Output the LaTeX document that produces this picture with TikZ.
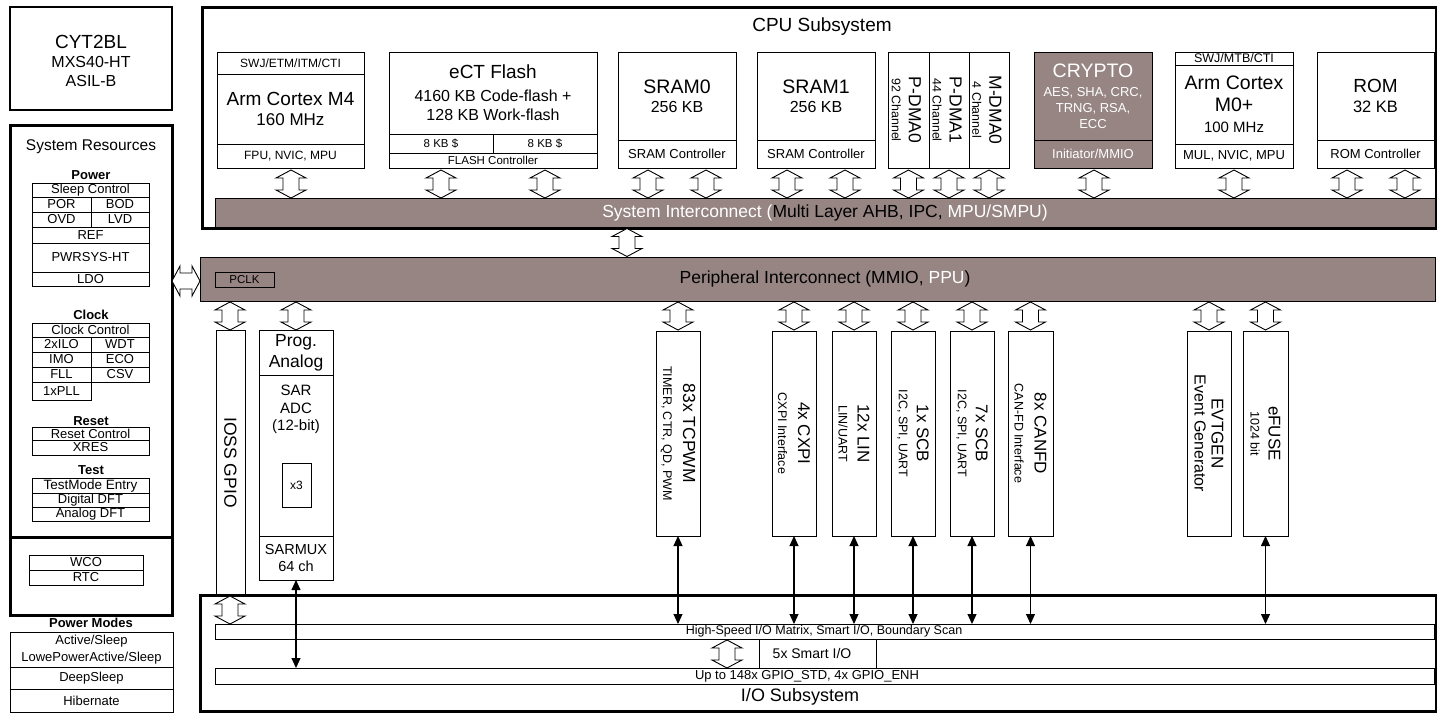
\documentclass[tikz,border=0pt]{standalone}
\usepackage{fontspec}
\setmainfont{Liberation Sans}
\usetikzlibrary{arrows.meta}
\definecolor{gry}{RGB}{150,133,131}
\newcommand\fs[2]{\fontsize{#1}{#2}\selectfont}
\newcommand\fz[1]{\fontsize{#1}{#1}\selectfont}
\newcommand\bx[7][]{\node[bxs,minimum width={(#5)-(#3)},minimum height={(#6)-(#4)},#1] (#2) at ({((#3)+(#5))/2},{((#4)+(#6))/2}) {#7};}
\begin{document}
\begin{tikzpicture}[x=1pt,y=-1pt,
 bxs/.style={draw,line width=1pt,rectangle,inner sep=0pt,outer sep=0pt,align=center,font=\fs{13}{15}},
 gbx/.style={fill=gry},
 thk/.style={line width=3pt},
 lbl/.style={inner sep=0pt,align=center},
 hdr/.style={inner sep=0pt,font=\fs{13}{15}\bfseries},
 dar/.style={line width=1.1pt,{Triangle[length=10pt,width=9pt]}-{Triangle[length=10pt,width=9pt]}},
 barrow/.pic={\draw[line width=0.9pt,fill=white] (0,-14) -- (15,-6) -- (8,-6) -- (8,6) -- (15,6) -- (0,14) -- (-15,6) -- (-8,6) -- (-8,-6) -- (-15,-6) -- cycle;}
]
\useasboundingbox (0,0) rectangle (1437,713);
\fill[white] (0,0) rectangle (1437,713);

% ---------------- left column ----------------
\bx[line width=1.3pt]{cyt}{10}{7}{172}{110}{}
\node[lbl,font=\fs{16}{19}] (cytt) at (91,61) {{\fz{19}CYT2BL}\\MXS40-HT\\ASIL-B};
\bx[thk]{sr}{10}{125}{172}{615}{}
\draw[thk] (10,537) -- (172,537);
\node[lbl,font=\fs{15.5}{18}] (srt) at (91,147) {System Resources};

\node[hdr] (pwh) at (91,175) {Power};
\bx{slc}{32}{183}{149}{197}{Sleep Control}
\bx{por}{32}{197}{91}{212}{POR}
\bx{bod}{91}{197}{149}{212}{BOD}
\bx{ovd}{32}{212}{91}{227}{OVD}
\bx{lvd}{91}{212}{149}{227}{LVD}
\bx{ref}{32}{227}{149}{243}{REF}
\bx{pwr}{32}{243}{149}{272}{PWRSYS-HT}
\bx{ldo}{32}{272}{149}{286}{LDO}

\node[hdr] (clh) at (91,315) {Clock};
\bx{cc}{32}{323}{149}{337}{Clock Control}
\bx{ilo}{32}{337}{91}{352}{2xILO}
\bx{wdt}{91}{337}{149}{352}{WDT}
\bx{imo}{32}{352}{91}{367}{IMO}
\bx{eco}{91}{352}{149}{367}{ECO}
\bx{fll}{32}{367}{91}{382}{FLL}
\bx{csv}{91}{367}{149}{382}{CSV}
\bx{pll}{32}{382}{91}{400}{1xPLL}

\node[hdr] (rsh) at (91,421) {Reset};
\bx{rc}{32}{427}{149}{440}{Reset Control}
\bx{xres}{32}{440}{149}{455}{XRES}

\node[hdr] (tsh) at (91,470) {Test};
\bx[font=\fs{13.5}{15}]{tme}{32}{478}{149}{493}{TestMode Entry}
\bx{ddft}{32}{493}{149}{507}{Digital DFT}
\bx{adft}{32}{507}{149}{521}{Analog DFT}

\bx{wco}{29}{555}{143}{570}{WCO}
\bx{rtc}{29}{570}{143}{585}{RTC}

\node[hdr] (pmh) at (91,623) {Power Modes};
\bx[font=\fs{13}{17}]{am}{10}{632}{173}{667}{Active/Sleep\\LowePowerActive/Sleep}
\bx{ds}{10}{667}{173}{689}{DeepSleep}
\bx{hib}{10}{689}{173}{712}{Hibernate}

% ---------------- CPU subsystem ----------------
\bx[thk]{cpu}{202}{7}{1436}{228}{}
\node[lbl,font=\fs{19}{22}] (cput) at (822,27) {CPU Subsystem};

\bx[font=\fs{12}{14}]{m4t}{217}{52}{364}{74}{SWJ/ETM/ITM/CTI}
\bx[font=\fs{17}{20}]{m4}{217}{74}{364}{144}{{\fz{19}Arm Cortex M4}\\160 MHz}
\bx[font=\fs{12}{14}]{m4b}{217}{144}{364}{168}{FPU, NVIC, MPU}

\bx[font=\fs{16}{19}]{fl}{389}{52}{597}{134}{{\fz{19}eCT Flash}\\[4pt]4160 KB Code-flash +\\128 KB Work-flash}
\bx[font=\fs{11.5}{13}]{ca}{389}{134}{493}{153}{8 KB \$}
\bx[font=\fs{11.5}{13}]{cb}{493}{134}{597}{153}{8 KB \$}
\bx[font=\fs{11.5}{13}]{fc}{389}{153}{597}{168}{FLASH Controller}

\bx[font=\fs{16}{19}]{s0}{618}{52}{736}{140}{{\fz{19.5}SRAM0}\\256 KB}
\bx{s0c}{618}{140}{736}{168}{SRAM Controller}
\bx[font=\fs{16}{19}]{s1}{757}{52}{875}{140}{{\fz{19.5}SRAM1}\\256 KB}
\bx{s1c}{757}{140}{875}{168}{SRAM Controller}

\bx{pd0}{888}{52}{929}{168}{}
\bx{pd1}{929}{52}{969}{168}{}
\bx{md0}{969}{52}{1009}{168}{}
\node[lbl,rotate=-90,font=\fs{12.4}{17}] (pd0t) at ([xshift=-2pt]pd0.center) {{\fz{17.5}P-DMA0}\\92 Channel};
\node[lbl,rotate=-90,font=\fs{12.4}{17}] (pd1t) at ([xshift=-2pt]pd1.center) {{\fz{17.5}P-DMA1}\\44 Channel};
\node[lbl,rotate=-90,font=\fs{12.4}{17}] (md0t) at ([xshift=-2pt]md0.center) {{\fz{17.5}M-DMA0}\\4 Channel};

\bx[gbx,text=white,font=\fs{13}{16}]{cr}{1034}{52}{1152}{140}{{\fz{19.5}CRYPTO}\\[3pt]AES, SHA, CRC,\\TRNG, RSA,\\ECC}
\bx[gbx,text=white]{crb}{1034}{140}{1152}{168}{Initiator/MMIO}

\bx[font=\fs{12.5}{14}]{m0t}{1175}{52}{1293}{65}{SWJ/MTB/CTI}
\bx[font=\fs{15}{21.5}]{m0}{1175}{65}{1293}{144}{{\fz{19.5}Arm Cortex}\\{\fz{19.5}M0+}\\100 MHz}
\bx{m0b}{1175}{144}{1293}{168}{MUL, NVIC, MPU}

\bx[font=\fs{16.5}{20}]{rom}{1317}{52}{1434}{140}{{\fz{19}ROM}\\32 KB}
\bx{romc}{1317}{140}{1434}{168}{ROM Controller}

\foreach \i/\x in {1/291,2/441,3/545,4/648,5/706,6/787,7/845,8/908.5,9/949,10/989,11/1094,12/1234,13/1347,14/1405}
  \pic (ca\i) at (\x,184) {barrow};

\bx[gbx,font=\fs{17.5}{20}]{sic}{215}{198}{1435}{227}{\textcolor{white}{System Interconnect (}Multi Layer AHB, IPC, \textcolor{white}{MPU/SMPU)}}

\pic (mid) at (627,242.5) {barrow};

% ---------------- peripheral interconnect ----------------
\bx[gbx]{pic}{200}{257}{1435}{301}{}
\node[lbl,font=\fs{17.5}{20}] (pict) at (825,279) {Peripheral Interconnect (MMIO, \textcolor{white}{PPU})};
\bx[font=\fs{11.5}{13}]{pclk}{215}{272}{274}{287}{PCLK}
\pic[rotate=90] (lft) at (186,281) {barrow};

\foreach \i/\x in {1/230,2/296,3/678,4/794,5/854,6/913,7/972,8/1030.5,9/1209,10/1265.5}
  \pic (pa\i) at (\x,316) {barrow};

\bx{ioss}{216}{330}{245}{595}{}
\node[lbl,rotate=-90,font=\fs{17.5}{20}] (iosst) at (ioss) {IOSS GPIO};

\bx[font=\fs{17.5}{21}]{pa}{259}{330}{333}{375}{Prog.\\Analog}
\bx{sar}{259}{375}{333}{536}{}
\node[lbl,anchor=north,font=\fs{15}{17.5}] (sart) at (296,385) {SAR\\ADC\\(12-bit)};
\bx[line width=0.8pt,font=\fs{12}{14}]{x3}{282}{463}{311}{507}{x3}
\bx[font=\fs{14.5}{17}]{smux}{259}{536}{333}{580}{SARMUX\\64 ch}

\bx{tcp}{656}{331}{700}{536}{}
\bx{cxpi}{772}{331}{816}{536}{}
\bx{lin}{832}{331}{876}{536}{}
\bx{scba}{891}{331}{935}{536}{}
\bx{scbb}{950}{331}{994}{536}{}
\bx{can}{1008}{331}{1053}{536}{}
\bx{evt}{1187}{331}{1231}{536}{}
\bx{efu}{1243}{331}{1288}{536}{}
\node[lbl,rotate=-90,font=\fs{12.5}{20}] (tcpt) at (tcp) {{\fz{17.5}83x TCPWM}\\TIMER, CTR, QD, PWM};
\node[lbl,rotate=-90,font=\fs{12.5}{20}] (cxpit) at (cxpi) {{\fz{17}4x CXPI}\\CXPI Interface};
\node[lbl,rotate=-90,font=\fs{12.5}{19}] (lint) at (lin) {{\fz{17}12x LIN}\\LIN/UART};
\node[lbl,rotate=-90,font=\fs{12.5}{18}] (scbat) at (scba) {{\fz{17}1x SCB}\\I2C, SPI, UART};
\node[lbl,rotate=-90,font=\fs{12.5}{18}] (scbbt) at (scbb) {{\fz{17}7x SCB}\\I2C, SPI, UART};
\node[lbl,rotate=-90,font=\fs{12.5}{20}] (cant) at (can) {{\fz{17}8x CANFD}\\CAN-FD Interface};
\node[lbl,rotate=-90,font=\fs{16}{17}] (evtt) at (evt) {{\fz{17}EVTGEN}\\Event Generator};
\node[lbl,rotate=-90,font=\fs{12.5}{18}] (efut) at (efu) {{\fz{17}eFUSE}\\1024 bit};

% ---------------- I/O subsystem ----------------
\bx[thk]{iob}{200}{595}{1436}{711}{}
\node[lbl,font=\fs{18}{20}] (iot) at (800,697) {I/O Subsystem};
\bx{hs}{215}{624}{1434}{639}{}
\node[lbl,font=\fs{12.5}{14}] (hst) at (824,631.5) {High-Speed I/O Matrix, Smart I/O, Boundary Scan};
\bx{gp}{215}{668}{1434}{684}{}
\node[lbl,font=\fs{13}{15}] (gpt) at (807,676) {Up to 148x GPIO\_STD, 4x GPIO\_ENH};
\draw[line width=1pt] (759,639) -- (759,668) (876,639) -- (876,668);
\node[lbl,font=\fs{14}{16}] (smt) at (812,653.5) {5x Smart I/O};
\pic (ioa) at (230,610) {barrow};
\pic (sma) at (727,654) {barrow};

\foreach \n in {tcp,cxpi,lin,scba,scbb,can,efu}
  \draw[dar] (\n.south) -- (\n.south |- hs.north);
\draw[dar] (smux.south) -- (smux.south |- gp.north);
\end{tikzpicture}
\end{document}
